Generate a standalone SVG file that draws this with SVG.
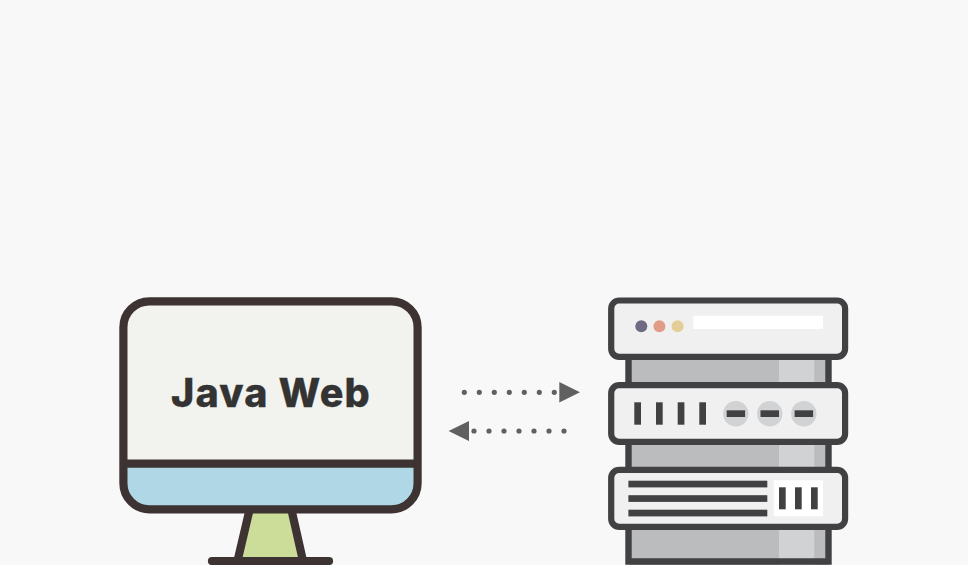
<svg xmlns="http://www.w3.org/2000/svg" width="968" height="565" viewBox="0 0 968 565">
  <style>
    .mon { stroke: #3e3333; stroke-width: 8.2; }
    .box { fill: #f0f0f0; stroke: #414042; stroke-width: 6.2; }
    .ink { fill: #414042; }
    .body { fill: #bbbcbe; }
    .strip { fill: #d1d2d4; }
    .flow { fill: none; stroke: #606060; stroke-width: 5.2; stroke-linecap: round; stroke-dasharray: 0 15; }
    .label { font-family: "Inter", "Liberation Sans", sans-serif; font-weight: 800; font-size: 39.5px; letter-spacing: 1.2px; fill: #333333; stroke: #333333; stroke-width: 0.3px; text-anchor: middle; }
  </style>
  <defs>
    <marker id="tri" markerUnits="userSpaceOnUse" markerWidth="21" markerHeight="21" refX="0" refY="10.2" orient="auto">
      <path d="M0 0 L20.7 10.2 L0 20.4 Z" fill="#606060"/>
    </marker>
  </defs>
  <rect width="968" height="565" fill="#f8f8f8"/>

  <g id="monitor">
    <path d="M241 557 L249 510 H292 L302 557 Z" fill="#cbdd99" stroke="none"/>
    <path class="mon" fill="none" d="M249.500 510 L237.500 561 M291.500 510 L303 561"/>
    <path class="mon" fill="none" stroke-linecap="round" d="M212 561 H329"/>
    <path d="M123.400 463.600 V327.300 A26 26 0 0 1 149.400 301.300 H391.600 A26 26 0 0 1 417.600 327.300 V463.600 Z" fill="#f2f2ee" stroke="none"/>
    <path d="M123.400 463.600 H417.600 V483.300 A26 26 0 0 1 391.600 509.300 H149.400 A26 26 0 0 1 123.400 483.300 Z" fill="#b0d7e5" stroke="none"/>
    <rect class="mon" x="123.400" y="301.300" width="294.200" height="208" rx="26" fill="none"/>
    <path class="mon" fill="none" d="M123.400 463.600 H417.600"/>
    <text class="label" x="271" y="406.700">Java Web</text>
  </g>

  <g id="server">
    <rect class="body" x="628.500" y="355" width="199.800" height="210"/>
    <rect class="strip" x="779" y="355" width="35.300" height="210"/>
    <path fill="none" stroke="#414042" stroke-width="6.400" d="M628.500 355 V561.500 H828.500 V355"/>

    <rect class="box" x="611.200" y="300.500" width="233.900" height="56.300" rx="8"/>
    <circle cx="641.300" cy="326.300" r="6" fill="#6f6b85"/>
    <circle cx="659.400" cy="326.300" r="6" fill="#e09c87"/>
    <circle cx="677.600" cy="326.300" r="6" fill="#e5cd97"/>
    <rect x="693.300" y="315.700" width="129.700" height="13.300" fill="#ffffff"/>

    <rect class="box" x="611.200" y="385.200" width="233.900" height="56.600" rx="8"/>
    <rect class="ink" x="634.300" y="402.300" width="6.700" height="22.400"/>
    <rect class="ink" x="656" y="402.300" width="6.700" height="22.400"/>
    <rect class="ink" x="677.700" y="402.300" width="6.700" height="22.400"/>
    <rect class="ink" x="699.300" y="402.300" width="6.700" height="22.400"/>
    <circle class="strip" cx="735.800" cy="413.700" r="12.700"/>
    <circle class="strip" cx="769.700" cy="413.700" r="12.700"/>
    <circle class="strip" cx="803.800" cy="413.700" r="12.700"/>
    <rect class="ink" x="726.700" y="410.300" width="18.400" height="6.700"/>
    <rect class="ink" x="760.500" y="410.300" width="18.500" height="6.700"/>
    <rect class="ink" x="794.600" y="410.300" width="18.500" height="6.700"/>

    <rect class="box" x="611.200" y="469.900" width="233.900" height="56.900" rx="8"/>
    <rect class="ink" x="628.400" y="480.700" width="138.900" height="6.700"/>
    <rect class="ink" x="628.400" y="495.200" width="138.900" height="6.700"/>
    <rect class="ink" x="628.400" y="509.700" width="138.900" height="6.700"/>
    <rect x="773.700" y="480.300" width="49.300" height="36" fill="#ffffff"/>
    <rect class="ink" x="779" y="487.300" width="6.700" height="22"/>
    <rect class="ink" x="795" y="487.300" width="6.700" height="22"/>
    <rect class="ink" x="811" y="487.300" width="6.700" height="22"/>
  </g>

  <g id="connectors">
    <path class="flow" d="M464.300 392.300 H559.300" marker-end="url(#tri)"/>
    <path class="flow" d="M564 431 H469.300" marker-end="url(#tri)"/>
  </g>
</svg>
